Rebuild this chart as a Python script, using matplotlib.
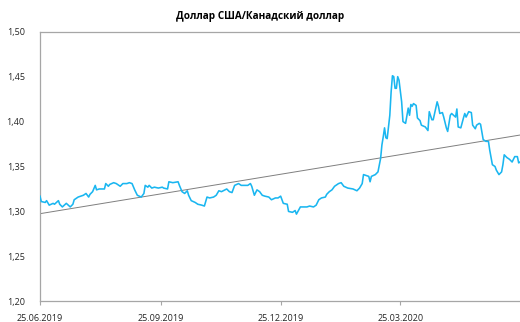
import numpy as np
import pandas as pd
import matplotlib
matplotlib.use("Agg")
import matplotlib.pyplot as plt
import matplotlib.dates as mdates
from matplotlib.ticker import FuncFormatter, FixedLocator

plt.rcParams['font.family'] = ['Open Sans', 'DejaVu Sans']

title = "Доллар США/Канадский доллар"
start_date = "2019-06-25"
end_date = "2020-06-24"

# days since start_date
day_offsets = [
    0, 1, 4, 5, 7, 10, 11, 14, 15, 17, 20, 23, 25, 26, 29, 33, 35, 37, 38, 40,
    42, 43, 45, 49, 50, 52, 53, 56, 58, 61, 63, 66, 68, 70, 72, 74, 77, 79, 80, 82,
    83, 85, 87, 90, 93, 94, 97, 98, 101, 105, 106, 108, 110, 112, 113, 115, 118, 120, 123, 125,
    127, 129, 132, 134, 136, 138, 142, 144, 146, 148, 151, 153, 156, 158, 160, 161, 163, 165, 167, 169,
    171, 174, 176, 179, 181, 183, 185, 188, 189, 192, 194, 195, 198, 200, 203, 205, 208, 210, 212, 214,
    217, 218, 220, 222, 224, 227, 229, 231, 234, 238, 241, 243, 245, 246, 250, 251, 252, 255, 257, 259,
    260, 261, 262, 263, 264, 266, 267, 268, 269, 270, 271, 272, 273, 275, 276, 278, 280, 281, 282, 283,
    284, 286, 287, 289, 290, 293, 295, 296, 298, 299, 302, 303, 304, 306, 307, 309, 310, 312, 313, 316,
    317, 318, 320, 322, 323, 324, 326, 328, 329, 331, 332, 334, 335, 337, 339, 341, 342, 344, 346, 347,
    349, 351, 352, 353, 355, 357, 359, 361, 363, 364, 365,
]

usdcad = [
    1.317, 1.311, 1.310, 1.312, 1.307, 1.309, 1.308, 1.312, 1.308, 1.305, 1.309, 1.305, 1.308, 1.313, 1.316, 1.318, 1.320, 1.316, 1.319, 1.322,
    1.329, 1.324, 1.325, 1.325, 1.331, 1.328, 1.330, 1.332, 1.331, 1.328, 1.331, 1.331, 1.332, 1.331, 1.324, 1.318, 1.316, 1.320, 1.329, 1.327,
    1.329, 1.326, 1.327, 1.326, 1.327, 1.326, 1.325, 1.333, 1.332, 1.333, 1.329, 1.322, 1.320, 1.323, 1.318, 1.312, 1.310, 1.308, 1.307, 1.306,
    1.316, 1.315, 1.316, 1.318, 1.323, 1.322, 1.325, 1.322, 1.321, 1.329, 1.331, 1.329, 1.329, 1.329, 1.331, 1.328, 1.318, 1.324, 1.322, 1.318,
    1.317, 1.316, 1.313, 1.315, 1.315, 1.317, 1.309, 1.308, 1.300, 1.299, 1.301, 1.297, 1.305, 1.305, 1.305, 1.306, 1.305, 1.307, 1.313, 1.315,
    1.316, 1.319, 1.322, 1.324, 1.328, 1.331, 1.332, 1.328, 1.326, 1.325, 1.323, 1.326, 1.331, 1.341, 1.339, 1.333, 1.339, 1.341, 1.344, 1.359,
    1.374, 1.383, 1.393, 1.382, 1.381, 1.407, 1.433, 1.451, 1.450, 1.437, 1.437, 1.450, 1.446, 1.422, 1.400, 1.398, 1.415, 1.407, 1.419, 1.417,
    1.420, 1.418, 1.404, 1.401, 1.396, 1.394, 1.390, 1.411, 1.402, 1.402, 1.422, 1.417, 1.409, 1.410, 1.405, 1.393, 1.389, 1.407, 1.409, 1.405,
    1.414, 1.394, 1.393, 1.404, 1.409, 1.405, 1.411, 1.410, 1.396, 1.392, 1.396, 1.398, 1.397, 1.380, 1.378, 1.378, 1.368, 1.352, 1.350, 1.346,
    1.341, 1.344, 1.352, 1.363, 1.360, 1.358, 1.355, 1.361, 1.361, 1.354, 1.355,
]

# linear trend of the series, at the first and last date of the axis
trend_start = 1.2975
trend_end = 1.385

y_ticks = [1.20, 1.25, 1.30, 1.35, 1.40, 1.45, 1.50]
x_tick_labels = ["25.06.2019", "25.09.2019", "25.12.2019", "25.03.2020"]

dates = pd.Timestamp(start_date) + pd.to_timedelta(day_offsets, unit="D")
x = mdates.date2num(dates.to_pydatetime())
y = np.array(usdcad)

fig = plt.figure(figsize=(5.2, 3.22), dpi=100)
ax = fig.add_axes([40 / 520, 1 - 301.3 / 322, 1 - 40 / 520, (301.3 - 31.7) / 322])

ax.plot(x, y, color="#1ab6f0", lw=1.15, solid_joinstyle="round", zorder=3)

x_lim = mdates.date2num([pd.Timestamp(start_date).to_pydatetime(), pd.Timestamp(end_date).to_pydatetime()])
ax.plot(x_lim, [trend_start, trend_end], color="#7f7f7f", lw=0.7, zorder=2)

ax.set_xlim(*x_lim)
ax.set_ylim(y_ticks[0], y_ticks[-1])

tick_pos = mdates.date2num([pd.to_datetime(s, format="%d.%m.%Y").to_pydatetime() for s in x_tick_labels])
ax.xaxis.set_major_locator(FixedLocator(tick_pos))
ax.set_xticklabels(x_tick_labels)
ax.yaxis.set_major_locator(FixedLocator(y_ticks))
ax.yaxis.set_major_formatter(FuncFormatter(lambda v, p: f"{v:.2f}".replace(".", ",")))

for side in ("left", "bottom", "top"):
    ax.spines[side].set_color("#a6a6a6")
    ax.spines[side].set_linewidth(0.9)
ax.spines["right"].set_visible(False)

ax.tick_params(axis="x", length=3, width=0.8, color="#a6a6a6", pad=6, labelsize=6.5, labelcolor="#262626")
ax.tick_params(axis="y", length=0, pad=11, labelsize=6.5, labelcolor="#262626")

fig.text(0.5, 1 - 17 / 322, title, ha="center", va="center", fontsize=7.2, fontweight="bold", color="#000000")

fig.savefig("out.png", dpi=100)
